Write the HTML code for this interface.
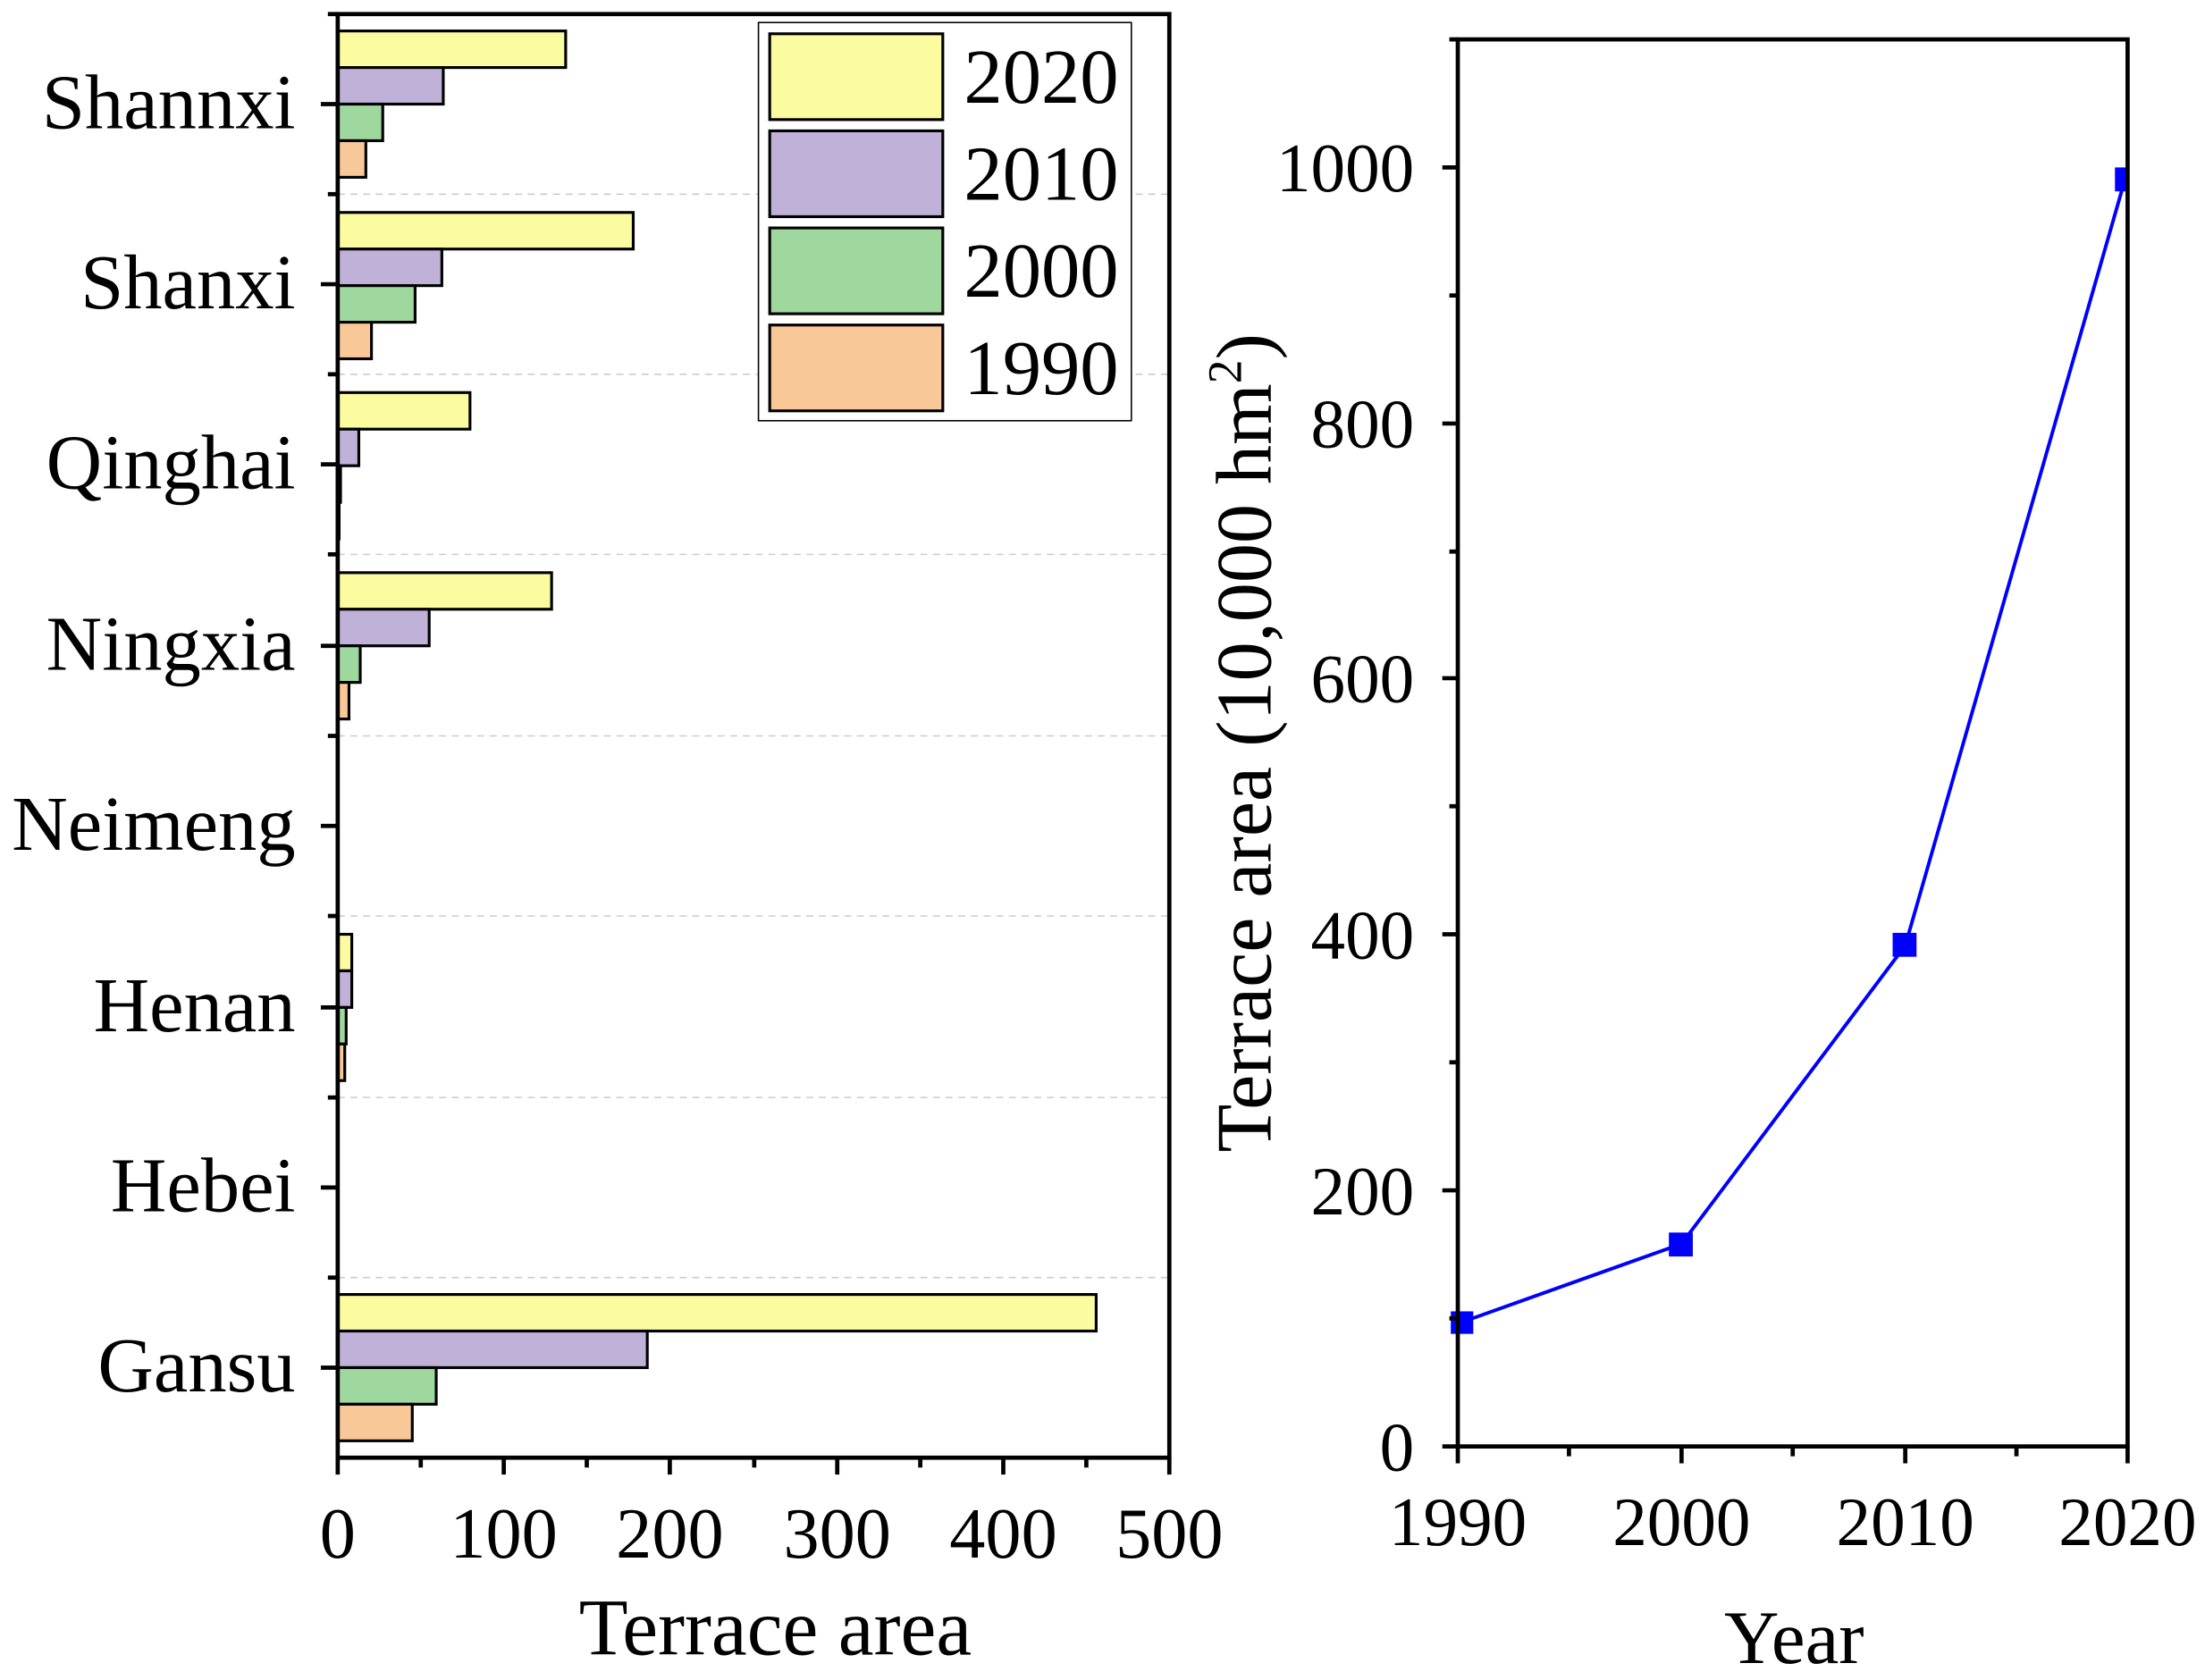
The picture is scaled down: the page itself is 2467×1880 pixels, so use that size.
<!DOCTYPE html>
<html><head><meta charset="utf-8"><style>html,body{margin:0;padding:0;background:#fff}svg{display:block}</style></head>
<body>
<svg width="2467" height="1880" viewBox="0 0 1567 1194" preserveAspectRatio="none" xmlns="http://www.w3.org/2000/svg" font-family="Liberation Serif, serif" fill="#000">
<rect width="1567" height="1194" fill="#fff"/>
<g stroke="#ccc" stroke-width="1" stroke-dasharray="5,4">
<line x1="240" y1="138" x2="831" y2="138"/><line x1="240" y1="266" x2="831" y2="266"/><line x1="240" y1="394" x2="831" y2="394"/><line x1="240" y1="523" x2="831" y2="523"/><line x1="240" y1="651" x2="831" y2="651"/><line x1="240" y1="780" x2="831" y2="780"/><line x1="240" y1="908" x2="831" y2="908"/>
</g>
<g stroke="#000" stroke-width="2">
<rect x="240" y="22" width="162" height="26" fill="#fbfb9f"/><rect x="240" y="48" width="75" height="26" fill="#c0b1d8"/><rect x="240" y="74" width="32" height="26" fill="#9ed89e"/><rect x="240" y="100" width="20" height="26" fill="#f9c898"/>
<rect x="240" y="151" width="210" height="26" fill="#fbfb9f"/><rect x="240" y="177" width="74" height="26" fill="#c0b1d8"/><rect x="240" y="203" width="55" height="26" fill="#9ed89e"/><rect x="240" y="229" width="24" height="26" fill="#f9c898"/>
<rect x="240" y="279" width="94" height="26" fill="#fbfb9f"/><rect x="240" y="305" width="15" height="26" fill="#c0b1d8"/><rect x="240" y="331" width="2" height="26" fill="#9ed89e"/><rect x="240" y="357" width="1" height="26" fill="#f9c898"/>
<rect x="240" y="407" width="152" height="26" fill="#fbfb9f"/><rect x="240" y="433" width="65" height="26" fill="#c0b1d8"/><rect x="240" y="459" width="16" height="26" fill="#9ed89e"/><rect x="240" y="485" width="8" height="26" fill="#f9c898"/>
<rect x="240" y="664" width="10" height="26" fill="#fbfb9f"/><rect x="240" y="690" width="10" height="26" fill="#c0b1d8"/><rect x="240" y="716" width="6" height="26" fill="#9ed89e"/><rect x="240" y="742" width="5" height="26" fill="#f9c898"/>
<rect x="240" y="920" width="539" height="26" fill="#fbfb9f"/><rect x="240" y="946" width="220" height="26" fill="#c0b1d8"/><rect x="240" y="972" width="70" height="26" fill="#9ed89e"/><rect x="240" y="998" width="53" height="26" fill="#f9c898"/>
</g>
<g stroke="#000" stroke-width="3" fill="none">
<rect x="240" y="10" width="591" height="1026"/>
<line x1="228" y1="74" x2="240" y2="74"/><line x1="228" y1="202" x2="240" y2="202"/><line x1="228" y1="330" x2="240" y2="330"/><line x1="228" y1="459" x2="240" y2="459"/><line x1="228" y1="587" x2="240" y2="587"/><line x1="228" y1="716" x2="240" y2="716"/><line x1="228" y1="844" x2="240" y2="844"/><line x1="228" y1="972" x2="240" y2="972"/>
<line x1="233" y1="10" x2="240" y2="10"/><line x1="233" y1="138" x2="240" y2="138"/><line x1="233" y1="266" x2="240" y2="266"/><line x1="233" y1="394" x2="240" y2="394"/><line x1="233" y1="523" x2="240" y2="523"/><line x1="233" y1="651" x2="240" y2="651"/><line x1="233" y1="780" x2="240" y2="780"/><line x1="233" y1="908" x2="240" y2="908"/>
<line x1="240" y1="1036" x2="240" y2="1048"/><line x1="358" y1="1036" x2="358" y2="1048"/><line x1="476" y1="1036" x2="476" y2="1048"/><line x1="595" y1="1036" x2="595" y2="1048"/><line x1="713" y1="1036" x2="713" y2="1048"/><line x1="831" y1="1036" x2="831" y2="1048"/>
<line x1="299" y1="1036" x2="299" y2="1043"/><line x1="417" y1="1036" x2="417" y2="1043"/><line x1="536" y1="1036" x2="536" y2="1043"/><line x1="654" y1="1036" x2="654" y2="1043"/><line x1="772" y1="1036" x2="772" y2="1043"/>
</g>
<g font-size="55" text-anchor="end">
<text x="210" y="91">Shannxi</text><text x="210" y="219">Shanxi</text><text x="210" y="347">Qinghai</text><text x="210" y="476">Ningxia</text><text x="210" y="604">Neimeng</text><text x="210" y="733">Henan</text><text x="210" y="861">Hebei</text><text x="210" y="989">Gansu</text>
</g>
<g font-size="51" text-anchor="middle">
<text x="240" y="1107">0</text><text x="358" y="1107">100</text><text x="476" y="1107">200</text><text x="595" y="1107">300</text><text x="713" y="1107">400</text><text x="831" y="1107">500</text>
<text x="551" y="1176" font-size="57">Terrace area</text>
</g>
<rect x="539" y="16" width="265" height="283" fill="#fff" stroke="#000" stroke-width="1"/>
<g stroke="#000" stroke-width="2">
<rect x="547" y="24" width="123" height="61" fill="#fbfb9f"/><rect x="547" y="93" width="123" height="61" fill="#c0b1d8"/><rect x="547" y="162" width="123" height="61" fill="#9ed89e"/><rect x="547" y="231" width="123" height="61" fill="#f9c898"/>
</g>
<g font-size="55"><text x="685" y="73">2020</text><text x="685" y="142">2010</text><text x="685" y="211">2000</text><text x="685" y="280">1990</text></g>

<polyline points="1038,940 1195,884 1354,672 1510,128" fill="none" stroke="#0000ff" stroke-width="2.5"/>
<g fill="#0000ff"><rect x="1031" y="932" width="16" height="16"/><rect x="1186" y="876" width="17" height="17"/><rect x="1345" y="663" width="17" height="17"/><rect x="1503" y="119" width="9" height="17"/></g>
<g stroke="#000" stroke-width="3" fill="none">
<rect x="1036" y="28" width="476" height="1000"/>
<line x1="1025" y1="1028" x2="1036" y2="1028"/><line x1="1025" y1="846" x2="1036" y2="846"/><line x1="1025" y1="664" x2="1036" y2="664"/><line x1="1025" y1="482" x2="1036" y2="482"/><line x1="1025" y1="301" x2="1036" y2="301"/><line x1="1025" y1="119" x2="1036" y2="119"/>
<line x1="1030" y1="937" x2="1036" y2="937"/><line x1="1030" y1="755" x2="1036" y2="755"/><line x1="1030" y1="573" x2="1036" y2="573"/><line x1="1030" y1="392" x2="1036" y2="392"/><line x1="1030" y1="210" x2="1036" y2="210"/><line x1="1030" y1="28" x2="1036" y2="28"/>
<line x1="1036" y1="1028" x2="1036" y2="1040"/><line x1="1195" y1="1028" x2="1195" y2="1040"/><line x1="1354" y1="1028" x2="1354" y2="1040"/><line x1="1512" y1="1028" x2="1512" y2="1040"/>
<line x1="1115" y1="1028" x2="1115" y2="1035"/><line x1="1274" y1="1028" x2="1274" y2="1035"/><line x1="1433" y1="1028" x2="1433" y2="1035"/>
</g>
<g font-size="49" text-anchor="end">
<text x="1005" y="1045">0</text><text x="1005" y="863">200</text><text x="1005" y="681">400</text><text x="1005" y="499">600</text><text x="1005" y="318">800</text><text x="1005" y="136">1000</text>
</g>
<g font-size="49" text-anchor="middle">
<text x="1036" y="1098">1990</text><text x="1195" y="1098">2000</text><text x="1354" y="1098">2010</text><text x="1512" y="1098">2020</text>
<text x="1275" y="1182" font-size="54">Year</text>
</g>
<text transform="translate(903,528) rotate(-90)" font-size="56" text-anchor="middle">Terrace area (10,000 hm<tspan font-size="34" dy="-21">2</tspan><tspan dy="21">)</tspan></text>
</svg>
</body></html>
